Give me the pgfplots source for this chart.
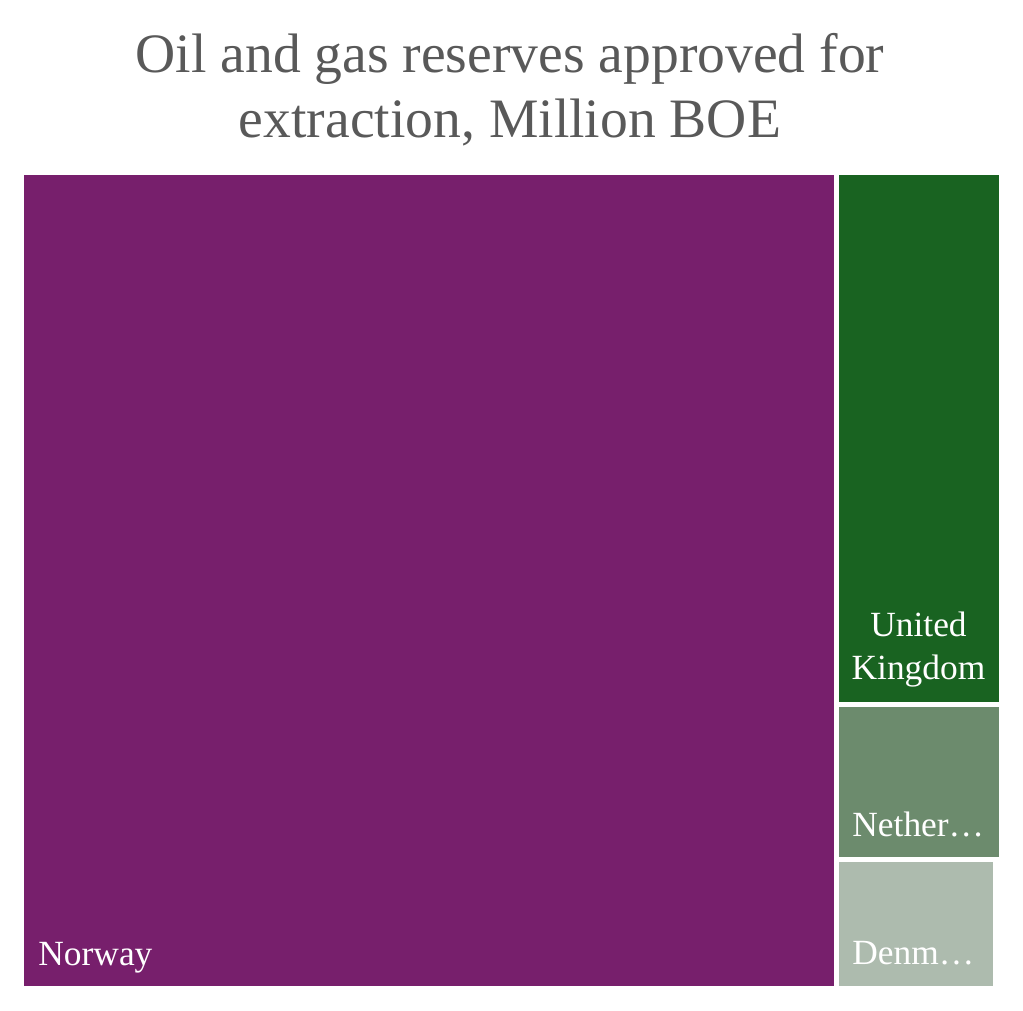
\documentclass[border=0pt]{standalone}
\usepackage{fontspec}
\setmainfont{Liberation Serif}
\usepackage{pgfplots}
\pgfplotsset{compat=1.18}
\definecolor{norway}{RGB}{119,31,108}
\definecolor{uk}{RGB}{25,99,33}
\definecolor{neth}{RGB}{108,139,109}
\definecolor{denm}{RGB}{173,187,174}
\definecolor{titlegray}{RGB}{89,89,89}
\begin{document}
\begin{tikzpicture}
\begin{axis}[
  x=0.5pt, y=0.5pt,
  xmin=0, xmax=1023, ymin=0, ymax=1011,
  hide axis, clip=false,
  scale only axis,
]
\path (axis cs:0,0) rectangle (axis cs:1023,1011);
% Treemap tiles (pixel-space rectangles)
\addplot[fill=norway, draw=none] coordinates {(24,25) (834,25) (834,836) (24,836)} -- cycle;
\addplot[fill=uk, draw=none] coordinates {(839,309) (999,309) (999,836) (839,836)} -- cycle;
\addplot[fill=neth, draw=none] coordinates {(839,154) (999,154) (999,304) (839,304)} -- cycle;
\addplot[fill=denm, draw=none] coordinates {(839,25) (993,25) (993,149) (839,149)} -- cycle;
% Title
\node[anchor=base, text=titlegray, font=\fontsize{27.8}{30}\selectfont] at (axis cs:510,938) {Oil and gas reserves approved for};
\node[anchor=base, text=titlegray, font=\fontsize{27.8}{30}\selectfont] at (axis cs:510,873) {extraction, Million BOE};
% Labels
\node[anchor=base west, text=white, inner sep=0pt, font=\fontsize{17.7}{18}\selectfont] at (axis cs:38,45) {Norway};
\node[anchor=base, text=white, inner sep=0pt, font=\fontsize{17.7}{18}\selectfont] at (axis cs:918.5,374) {United};
\node[anchor=base, text=white, inner sep=0pt, font=\fontsize{17.7}{18}\selectfont] at (axis cs:918.5,331) {Kingdom};
\node[anchor=base west, text=white, inner sep=0pt, font=\fontsize{17.7}{18}\selectfont] at (axis cs:852,174) {Nether…};
\node[anchor=base west, text=white, inner sep=0pt, font=\fontsize{17.7}{18}\selectfont] at (axis cs:852,46) {Denm…};
\end{axis}
\end{tikzpicture}
\end{document}
